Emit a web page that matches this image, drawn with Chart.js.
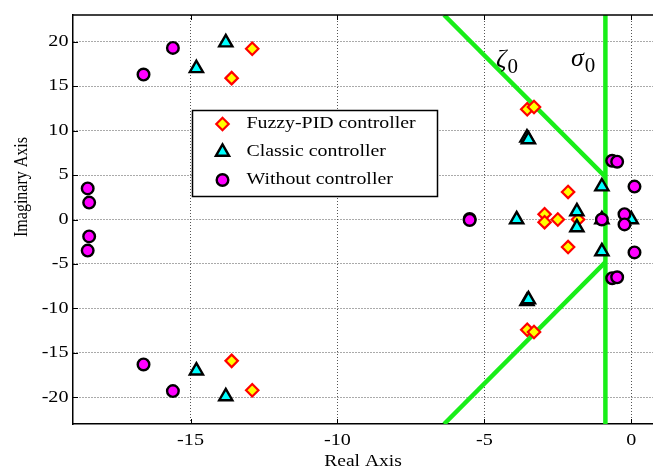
<!DOCTYPE html>
<html>
<head>
<meta charset="utf-8">
<script src="https://cdn.jsdelivr.net/npm/chart.js@4/dist/chart.umd.min.js"></script>
<style>
html,body{margin:0;padding:0;background:#fff;}
#wrap{position:relative;width:653px;height:471px;}
canvas{display:block;}
</style>
</head>
<body>
<div id="wrap"><canvas id="c" width="653" height="471"></canvas></div>
<script>
// ---- data ----
const seriesNames = ["Fuzzy-PID controller", "Classic controller", "Without controller"];

const fuzzyX = [-12.9, -13.6, -13.6, -12.9, -3.54, -3.31, -3.54, -3.31, -2.15, -2.15, -2.95, -2.95, -2.5, -1.81];
const fuzzyY = [19.2, 15.9, -15.9, -19.2, 12.4, 12.65, -12.4, -12.65, 3.1, -3.1, 0.6, -0.3, 0.0, 0.0];

const classicX = [-13.8, -14.8, -14.8, -13.8, -3.55, -3.5, -3.55, -3.5, -1.0, -1.0, -3.9, -1.85, -1.85, -1.0, 0.0];
const classicY = [19.9, 17.0, -17.0, -19.9, 9.2, 9.0, -9.2, -9.0, 3.7, -3.6, 0.0, 0.9, -0.9, 0.0, 0.0];

const withoutX = [-15.6, -16.6, -16.6, -15.6, -18.5, -18.45, -18.45, -18.5, -5.5, -5.5, -1.0, -0.65, -0.48, -0.65, -0.48, 0.11, 0.11, -0.23, -0.23];
const withoutY = [19.3, 16.3, -16.3, -19.3, 3.5, 1.9, -1.9, -3.5, 0.05, -0.05, 0.0, 6.6, 6.5, -6.6, -6.5, 3.7, -3.7, 0.6, -0.55];

// design-boundary lines (damping zeta0 and decay sigma0)
const zetaUpperX = [-6.37, -0.88];
const zetaUpperY = [23, 4.8];
const zetaLowerX = [-6.37, -0.88];
const zetaLowerY = [-23, -4.8];
const sigmaX = [-0.88, -0.88];
const sigmaY = [-23, 23];

const xTicks = [-15, -10, -5, 0];
const yTicks = [-20, -15, -10, -5, 0, 5, 10, 15, 20];
const xTitle = "Real Axis";
const yTitle = "Imaginary Axis";

// ---- helpers ----
const pts = (xs, ys) => xs.map((x, i) => ({x: x, y: ys[i]}));
const FONT = "'Liberation Serif', 'Times New Roman', serif";
const GREEN = 'rgb(24,238,24)';
const STRETCH = 1.22;

const styles = [
  {pointStyle: 'rectRot', radius: 6.2, bg: '#ffff00', border: '#ff0000', bw: 2.2},
  {pointStyle: 'triangle', radius: 7.6, bg: '#00ffff', border: '#000000', bw: 2.4},
  {pointStyle: 'circle', radius: 5.8, bg: '#ff00ff', border: '#000000', bw: 2.4}
];

function markerDataset(label, data, st, order) {
  return {
    type: 'scatter', label: label, data: data, order: order,
    pointStyle: st.pointStyle, pointRadius: st.radius, pointHoverRadius: st.radius,
    pointBackgroundColor: st.bg, pointBorderColor: st.border, pointBorderWidth: st.bw,
    showLine: false, clip: false
  };
}
function lineDataset(data) {
  return {
    type: 'line', label: '', data: data, order: 5,
    borderColor: GREEN, borderWidth: 4.5, pointRadius: 0, fill: false, tension: 0
  };
}

// text drawn slightly stretched horizontally, as in the reference
function sText(ctx, str, x, y, align, sx) {
  ctx.save();
  ctx.translate(x, y);
  ctx.scale(sx, 1);
  ctx.textAlign = align;
  ctx.fillText(str, 0, 0);
  ctx.restore();
}

const decor = {
  id: 'decor',
  afterDraw(chart) {
    const ctx = chart.ctx, a = chart.chartArea;
    const xs = chart.scales.x, ys = chart.scales.y;
    ctx.save();
    // top border
    ctx.strokeStyle = '#000'; ctx.lineWidth = 1.5;
    ctx.beginPath(); ctx.moveTo(a.left, a.top); ctx.lineTo(653, a.top); ctx.stroke();
    // inward tick marks
    ctx.lineWidth = 1;
    xTicks.forEach(v => {
      const px = Math.round(xs.getPixelForValue(v)) + 0.5;
      ctx.beginPath(); ctx.moveTo(px, a.bottom); ctx.lineTo(px, a.bottom - 5);
      ctx.moveTo(px, a.top); ctx.lineTo(px, a.top + 5); ctx.stroke();
    });
    yTicks.forEach(v => {
      const py = Math.round(ys.getPixelForValue(v)) + 0.5;
      ctx.beginPath(); ctx.moveTo(a.left, py); ctx.lineTo(a.left + 5, py); ctx.stroke();
    });
    // tick labels
    ctx.fillStyle = '#000';
    ctx.font = '16.5px ' + FONT;
    ctx.textBaseline = 'middle';
    xTicks.forEach(v => sText(ctx, String(v), xs.getPixelForValue(v), 441, 'center', STRETCH));
    yTicks.forEach(v => sText(ctx, String(v), 68.5, ys.getPixelForValue(v), 'right', STRETCH));
    // axis titles
    ctx.font = '16px ' + FONT;
    sText(ctx, xTitle, 363, 462, 'center', STRETCH);
    ctx.save();
    ctx.translate(21.5, 187); ctx.rotate(-Math.PI / 2);
    ctx.scale(1, STRETCH);
    ctx.textAlign = 'center';
    ctx.fillText(yTitle, 0, 0);
    ctx.restore();
    // zeta0 / sigma0 labels
    ctx.textAlign = 'left'; ctx.textBaseline = 'alphabetic';
    const lab = (sym, x, y) => {
      ctx.font = 'italic 26px ' + FONT;
      ctx.fillText(sym, x, y);
      const w = ctx.measureText(sym).width;
      ctx.font = '21px ' + FONT;
      ctx.fillText('0', x + w + 1, y + 6);
    };
    lab('\u03B6', 496, 67);
    lab('\u03C3', 571, 66);
    // legend box
    const L = 192.5, T = 110.5, W = 245, H = 86;
    ctx.fillStyle = '#fff';
    ctx.fillRect(L, T, W, H);
    ctx.strokeStyle = '#000'; ctx.lineWidth = 1.5;
    ctx.strokeRect(L, T, W, H);
    const rows = [124, 152, 180];
    seriesNames.forEach((name, i) => {
      const st = styles[i];
      ctx.fillStyle = st.bg; ctx.strokeStyle = st.border; ctx.lineWidth = st.bw;
      Chart.helpers.drawPoint(ctx, {pointStyle: st.pointStyle, radius: st.radius, rotation: 0, borderWidth: st.bw}, 222.5, rows[i]);
      ctx.fillStyle = '#000';
      ctx.font = '16px ' + FONT;
      ctx.textBaseline = 'middle';
      sText(ctx, name, 246.5, rows[i], 'left', 1.24);
    });
    ctx.restore();
  }
};

const gridOpts = {
  display: true, color: '#555', lineWidth: 1, drawTicks: false
};

new Chart(document.getElementById('c'), {
  data: {
    datasets: [
      markerDataset(seriesNames[2], pts(withoutX, withoutY), styles[2], 0),
      markerDataset(seriesNames[1], pts(classicX, classicY), styles[1], 1),
      markerDataset(seriesNames[0], pts(fuzzyX, fuzzyY), styles[0], 2),
      lineDataset(pts(zetaUpperX, zetaUpperY)),
      lineDataset(pts(zetaLowerX, zetaLowerY)),
      lineDataset(pts(sigmaX, sigmaY))
    ]
  },
  options: {
    responsive: false, animation: false,
    layout: {autoPadding: false, padding: {top: 15, right: 0, left: 0, bottom: 0}},
    plugins: {legend: {display: false}, tooltip: {enabled: false}, title: {display: false}},
    scales: {
      x: {
        type: 'linear', position: 'bottom', min: -19, max: 0.74,
        afterBuildTicks: s => { s.ticks = xTicks.map(v => ({value: v})); },
        afterFit: s => { s.height = 47; s.paddingLeft = 0; s.paddingRight = 0; },
        grid: Object.assign({}, gridOpts),
        border: {display: true, color: '#000', width: 1.5, dash: [1, 2]},
        ticks: {display: false}
      },
      y: {
        type: 'linear', min: -23, max: 23,
        afterBuildTicks: s => { s.ticks = yTicks.map(v => ({value: v})); },
        afterFit: s => { s.width = 73; s.paddingTop = 0; s.paddingBottom = 0; },
        grid: Object.assign({}, gridOpts),
        border: {display: true, color: '#000', width: 1.5, dash: [1, 2]},
        ticks: {display: false}
      }
    }
  },
  plugins: [decor]
});
</script>
</body>
</html>
